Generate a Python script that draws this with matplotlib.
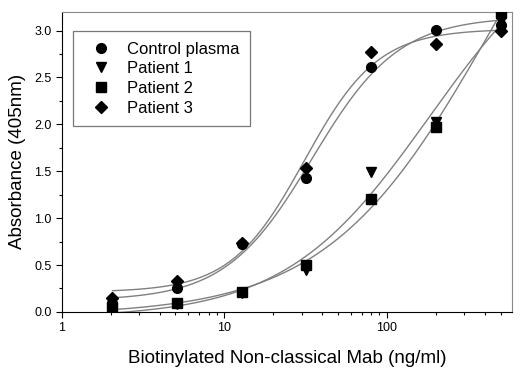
import numpy as np
import matplotlib
matplotlib.use("Agg")
import matplotlib.pyplot as plt
from matplotlib.ticker import MultipleLocator, LogLocator, FixedLocator, NullFormatter

plt.rcParams['font.family'] = ['Liberation Sans', 'DejaVu Sans']

conc = [2.048, 5.12, 12.8, 32, 80, 200, 500]
control = [0.10, 0.255, 0.72, 1.43, 2.61, 3.01, 3.06]
patient1 = [0.03, 0.08, 0.20, 0.45, 1.49, 2.03, 3.10]
patient2 = [0.05, 0.10, 0.21, 0.50, 1.20, 1.97, 3.19]
patient3 = [0.15, 0.33, 0.74, 1.54, 2.77, 2.86, 3.00]
labels = ["Control plasma", "Patient 1", "Patient 2", "Patient 3"]
markers = ["o", "v", "s", "D"]
msizes = [7.0, 7.0, 6.5, 6.3]


def logistic(p, x):
    b, t, lc, h = p
    return b + (t - b) / (1 + (10 ** lc / x) ** h)


def nelder_mead(f, x0, steps, iters=4000):
    n = len(x0)
    pts = [np.array(x0, float)]
    for i in range(n):
        q = np.array(x0, float)
        q[i] += steps[i]
        pts.append(q)
    vals = [f(p) for p in pts]
    for _ in range(iters):
        order = np.argsort(vals)
        pts = [pts[i] for i in order]
        vals = [vals[i] for i in order]
        c = np.mean(pts[:-1], axis=0)
        xr = c + (c - pts[-1])
        fr = f(xr)
        if fr < vals[0]:
            xe = c + 2 * (c - pts[-1])
            fe = f(xe)
            if fe < fr:
                pts[-1], vals[-1] = xe, fe
            else:
                pts[-1], vals[-1] = xr, fr
        elif fr < vals[-2]:
            pts[-1], vals[-1] = xr, fr
        else:
            xc = c + 0.5 * (pts[-1] - c)
            fc = f(xc)
            if fc < vals[-1]:
                pts[-1], vals[-1] = xc, fc
            else:
                for i in range(1, n + 1):
                    pts[i] = pts[0] + 0.5 * (pts[i] - pts[0])
                    vals[i] = f(pts[i])
    return pts[int(np.argmin(vals))]


def fit(y, x0):
    x = np.array(conc)
    y = np.array(y)

    def sse(p):
        if p[3] <= 0.2 or p[1] > 8:
            return 1e9
        return np.sum((logistic(p, x) - y) ** 2)
    return nelder_mead(sse, x0, [0.05, 0.3, 0.2, 0.2])


fig = plt.figure(figsize=(5.2, 3.7), dpi=100)
ax = fig.add_axes([0.119, 0.157, 0.866, 0.811])

xs = np.logspace(np.log10(2.048), np.log10(500), 300)
series = [control, patient1, patient2, patient3]
guesses = [[0.1, 3.1, 1.5, 1.7], [0.0, 4.5, 2.3, 1.1],
           [0.0, 4.5, 2.3, 1.1], [0.15, 3.0, 1.5, 1.7]]
for ys, g in zip(series, guesses):
    p = fit(ys, g)
    ax.plot(xs, logistic(p, xs), color="#808080", lw=1.0, zorder=2)

for ys, lab, m, ms in zip(series, labels, markers, msizes):
    ax.plot(conc, ys, linestyle="none", marker=m, color="black",
            markersize=ms, label=lab, zorder=3)

ax.set_xscale("log")
ax.set_xlim(1, 590)
ax.set_ylim(0, 3.2)
ax.yaxis.set_major_locator(FixedLocator([0, 0.5, 1.0, 1.5, 2.0, 2.5, 3.0]))
ax.yaxis.set_minor_locator(MultipleLocator(0.25))
ax.set_yticklabels(["0.0", "0.5", "1.0", "1.5", "2.0", "2.5", "3.0"])
ax.xaxis.set_major_locator(FixedLocator([1, 10, 100]))
ax.set_xticklabels(["1", "10", "100"])
ax.xaxis.set_minor_locator(LogLocator(base=10, subs=np.arange(2, 10)))
ax.xaxis.set_minor_formatter(NullFormatter())
ax.tick_params(which="both", direction="out", labelsize=9, width=0.8)
ax.tick_params(which="major", length=4)
ax.tick_params(which="minor", length=2.5)

for s in ["top", "right"]:
    ax.spines[s].set_color("#8a8a8a")
for s in ["left", "bottom"]:
    ax.spines[s].set_color("black")

ax.set_xlabel("Biotinylated Non-classical Mab (ng/ml)", fontsize=13.5, labelpad=11)
ax.set_ylabel("Absorbance (405nm)", fontsize=13.5, labelpad=6)

leg = ax.legend(loc="upper left", bbox_to_anchor=(0.024, 0.937), fontsize=12,
                frameon=True, fancybox=False, edgecolor="#555555",
                handletextpad=0.55, borderpad=0.65, labelspacing=0.28,
                handlelength=2.05, borderaxespad=0)
leg.get_frame().set_linewidth(0.9)

fig.savefig("out.png", dpi=100)
